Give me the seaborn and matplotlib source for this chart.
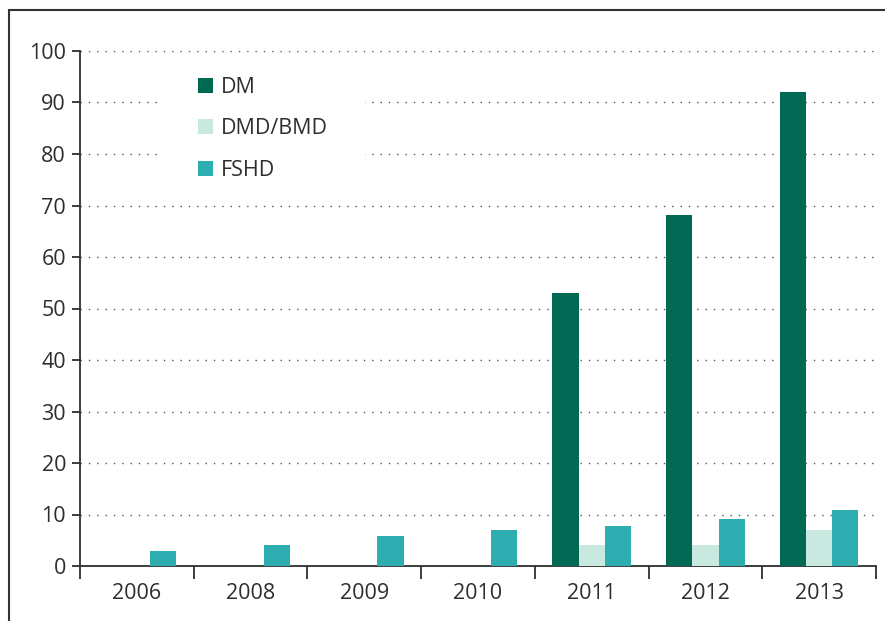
import matplotlib
matplotlib.use("Agg")
import matplotlib.pyplot as plt
from matplotlib.lines import Line2D
from matplotlib.patches import Rectangle
from matplotlib.ticker import FixedLocator
import seaborn as sns
import pandas as pd

years = ["2006", "2008", "2009", "2010", "2011", "2012", "2013"]
series = ["DM", "DMD/BMD", "FSHD"]
dm = [0, 0, 0, 0, 53, 68.2, 92]
dmd = [0, 0, 0, 0, 4.1, 4.1, 7]
fshd = [2.9, 4.1, 5.8, 7, 7.8, 9.1, 10.9]
colors = ["#006853", "#C8E8E0", "#2EADB0"]
yticks = [0, 10, 20, 30, 40, 50, 60, 70, 80, 90, 100]

rows = []
for name, vals in zip(series, [dm, dmd, fshd]):
    for y, v in zip(years, vals):
        rows.append({"year": y, "series": name, "value": v})
df = pd.DataFrame(rows)

sns.set_theme(style="white")
plt.rcParams["font.family"] = ["Open Sans", "DejaVu Sans"]
txt = "#2e2e2e"
fs = 15.5

fig = plt.figure(figsize=(8.85, 6.21), dpi=100)
ax = fig.add_axes([80/885, 55/621, 796/885, 515/621])

sns.barplot(data=df, x="year", y="value", hue="series", hue_order=series,
            palette=colors, width=0.69, saturation=1, ax=ax, legend=False,
            errorbar=None, zorder=3, linewidth=0, edgecolor="none")

ax.set_ylim(0, 100)
ax.set_xlim(-0.5, 6.5)
ax.set_yticks(yticks)
ax.set_yticklabels([str(t) for t in yticks], color=txt, fontsize=fs)
ax.set_xticks(range(len(years)))
ax.set_xticklabels(years, color=txt, fontsize=fs)
ax.xaxis.set_minor_locator(FixedLocator([i - 0.5 for i in range(len(years) + 1)]))
ax.tick_params(axis="x", which="major", length=0, pad=12)
ax.tick_params(axis="x", which="minor", length=9, width=1.3, color=txt, direction="out", bottom=True)
ax.tick_params(axis="y", which="major", length=6, width=1.3, color=txt, direction="out", left=True, pad=4)
ax.set_xlabel("")
ax.set_ylabel("")

for s in ["top", "right"]:
    ax.spines[s].set_visible(False)
for s in ["left", "bottom"]:
    ax.spines[s].set_color(txt)
    ax.spines[s].set_linewidth(1.3)

ax.yaxis.grid(True, color="#555555", linewidth=1.0, linestyle=(0, (1, 5)), zorder=0)
ax.set_axisbelow(True)

# white backing behind the legend block (interrupts the grid like the original)
ax.add_patch(Rectangle((80/796, 1 - 145/515), 205/796, 130/515, transform=ax.transAxes,
                       facecolor="white", edgecolor="none", zorder=1))

handles = [Rectangle((0, 0), 1, 1, facecolor=c, edgecolor="none") for c in colors]
leg = ax.legend(handles, series, loc="upper left", bbox_to_anchor=(118/796, 1 - 26/515),
                frameon=False, fontsize=fs, handlelength=0.7, handleheight=0.7,
                handletextpad=0.35, labelspacing=0.95, borderpad=0,
                labelcolor=txt, borderaxespad=0)
leg.set_zorder(4)

fig.add_artist(Line2D([9/885, 9/885], [0, 1 - 10/621], transform=fig.transFigure,
                      color="#333333", linewidth=1.5))
fig.add_artist(Line2D([9/885, 1], [1 - 10/621, 1 - 10/621], transform=fig.transFigure,
                      color="#333333", linewidth=1.5))

fig.savefig("out.png", dpi=100)
